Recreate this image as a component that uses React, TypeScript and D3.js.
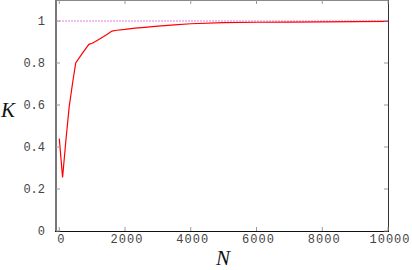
import React, { useEffect, useRef } from "react";
import * as d3 from "d3";

// N samples and the K value read at each
const nValues = [0, 100, 200, 300, 400, 500, 700, 900, 1000, 1100, 1200, 1350, 1450, 1600, 1750, 2000, 2300, 2600, 3000, 3500, 4000, 5000, 6000, 7000, 8000, 9000, 10000];
const kValues = [0.44, 0.255, 0.43, 0.59, 0.70, 0.80, 0.846, 0.889, 0.894, 0.902, 0.912, 0.926, 0.936, 0.952, 0.956, 0.96, 0.966, 0.97, 0.976, 0.982, 0.987, 0.992, 0.994, 0.995, 0.996, 0.997, 0.998];
const xTicks = [0, 2000, 4000, 6000, 8000, 10000];
const yTicks = [0, 0.2, 0.4, 0.6, 0.8, 1];
const reference = 1;

function App() {
  const ref = useRef<SVGSVGElement>(null);

  useEffect(() => {
    const svg = d3.select(ref.current);
    svg.selectAll("*").remove();

    const width = 412;
    const height = 270;
    const margin = { left: 56, right: 24, top: 0, bottom: 39 };
    const x0 = margin.left;
    const x1 = width - margin.right;
    const y0 = height - margin.bottom;
    const y1 = margin.top;

    const x = d3.scaleLinear().domain([-100, 10000]).range([x0, x1]);
    const y = d3.scaleLinear().domain([0, 1.1]).range([y0, y1]);

    const tickFont = "'Liberation Mono', monospace";

    // reference line at K = 1
    svg.append("line")
      .attr("x1", x0).attr("x2", x1)
      .attr("y1", y(reference)).attr("y2", y(reference))
      .attr("stroke", "#e07ce0")
      .attr("stroke-width", 1)
      .attr("stroke-dasharray", "2,1");

    // data curve
    const pts = nValues.map((n, i) => [n, kValues[i]] as [number, number]);
    const line = d3.line<[number, number]>().x(d => x(d[0])).y(d => y(d[1]));
    svg.append("path")
      .datum(pts)
      .attr("d", line)
      .attr("fill", "none")
      .attr("stroke", "#ff0000")
      .attr("stroke-width", 1.2);

    // frame
    svg.append("line").attr("x1", x0).attr("x2", x1).attr("y1", y1 + 0.5).attr("y2", y1 + 0.5)
      .attr("stroke", "#888").attr("stroke-width", 1);
    svg.append("line").attr("x1", x1 + 0.5).attr("x2", x1 + 0.5).attr("y1", y1).attr("y2", y0)
      .attr("stroke", "#333").attr("stroke-width", 1);
    svg.append("line").attr("x1", x0).attr("x2", x0).attr("y1", y1).attr("y2", y0 + 1)
      .attr("stroke", "#777").attr("stroke-width", 2);
    svg.append("line").attr("x1", x0 - 1).attr("x2", x1 + 1).attr("y1", y0 + 0.5).attr("y2", y0 + 0.5)
      .attr("stroke", "#111").attr("stroke-width", 1);

    // ticks (inward, mirrored)
    const tl = 4;
    svg.selectAll("line.xtb").data(xTicks).join("line").attr("class", "xtb")
      .attr("x1", d => x(d)).attr("x2", d => x(d))
      .attr("y1", y0).attr("y2", y0 - tl)
      .attr("stroke", "#999");
    svg.selectAll("line.xtt").data(xTicks).join("line").attr("class", "xtt")
      .attr("x1", d => x(d)).attr("x2", d => x(d))
      .attr("y1", y1).attr("y2", y1 + tl)
      .attr("stroke", "#999");
    svg.selectAll("line.ytl").data(yTicks).join("line").attr("class", "ytl")
      .attr("x1", x0).attr("x2", x0 + tl)
      .attr("y1", d => y(d)).attr("y2", d => y(d))
      .attr("stroke", "#999");
    svg.selectAll("line.ytr").data(yTicks).join("line").attr("class", "ytr")
      .attr("x1", x1).attr("x2", x1 - tl)
      .attr("y1", d => y(d)).attr("y2", d => y(d))
      .attr("stroke", "#999");

    // tick labels
    svg.selectAll("text.xl").data(xTicks).join("text").attr("class", "xl")
      .attr("x", d => x(d) + 2)
      .attr("y", y0 + 12)
      .attr("text-anchor", "middle")
      .attr("font-family", tickFont)
      .attr("font-size", 12)
      .attr("letter-spacing", 1)
      .attr("fill", "#444")
      .text(d => String(d));

    svg.selectAll("text.yl").data(yTicks).join("text").attr("class", "yl")
      .attr("x", 45)
      .attr("y", d => y(d) + 4)
      .attr("text-anchor", "end")
      .attr("font-family", tickFont)
      .attr("font-size", 12)
      .attr("fill", "#444")
      .text(d => String(d));

    // axis titles
    svg.append("text")
      .attr("x", 8).attr("y", 117)
      .attr("text-anchor", "middle")
      .attr("font-family", "'Liberation Serif', serif")
      .attr("font-style", "italic")
      .attr("font-size", 21)
      .attr("fill", "#111")
      .text("K");
    svg.append("text")
      .attr("x", 223).attr("y", 265)
      .attr("text-anchor", "middle")
      .attr("font-family", "'Liberation Serif', serif")
      .attr("font-style", "italic")
      .attr("font-size", 21)
      .attr("fill", "#111")
      .text("N");
  }, []);

  return (
    <svg
      ref={ref}
      width={412}
      height={270}
      style={{ position: "absolute", left: 0, top: 0, background: "#fff" }}
    />
  );
}

export default App;
